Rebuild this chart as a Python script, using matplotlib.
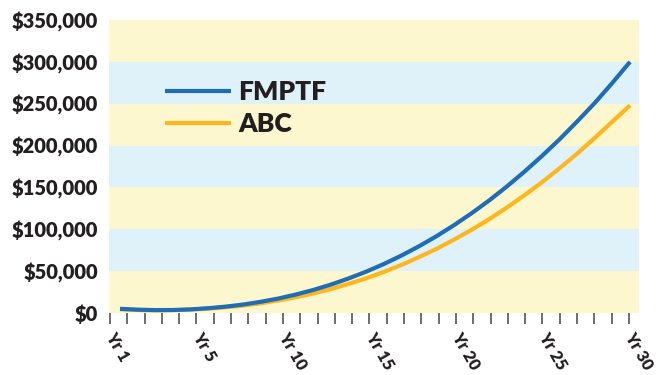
import matplotlib
matplotlib.use('Agg')
import matplotlib.pyplot as plt
import matplotlib.transforms as mtransforms
import numpy as np

years = np.arange(1, 31)
fmptf = [5000, 4000, 3500, 3600, 4300, 5700, 7600, 10100, 13400, 17300,
         22100, 27600, 34000, 41300, 49400, 58500, 68600, 79700, 91800, 105000,
         119300, 134600, 151200, 168900, 187700, 207600, 228900, 251000, 275000, 300000]
abc = [4500, 3700, 3100, 3400, 4100, 5200, 6800, 8900, 11600, 14900,
       18900, 23400, 28700, 34800, 41500, 49100, 57400, 66700, 76700, 87700,
       99500, 112200, 126000, 140700, 156300, 173000, 190500, 209200, 228700, 248000]
y_ticks = [0, 50000, 100000, 150000, 200000, 250000, 300000, 350000]
x_labels = ['Yr 1', 'Yr 5', 'Yr 10', 'Yr 15', 'Yr 20', 'Yr 25', 'Yr 30']

YELLOW = '#fdf7cf'
LIGHT_BLUE = '#e0f2f9'
BLUE = '#1f6db5'
ORANGE = '#fdb71c'
TEXT = '#231f20'

plt.rcParams['font.family'] = ['Lato', 'DejaVu Sans']
fig = plt.figure(figsize=(6.63, 3.75), dpi=100)
ax = fig.add_axes([0.1644, 0.1653, 0.7994, 0.7814])

# alternating bands
for i in range(len(y_ticks) - 1):
    ax.axhspan(y_ticks[i], y_ticks[i + 1], color=YELLOW if i % 2 == 0 else LIGHT_BLUE,
               lw=0, zorder=0)

ax.plot(years, fmptf, color=BLUE, lw=3, label='FMPTF', zorder=3, solid_capstyle='butt')
ax.plot(years, abc, color=ORANGE, lw=3, label='ABC', zorder=2, solid_capstyle='butt')

ax.set_xlim(0.375, 30.51)
ax.set_ylim(y_ticks[0], y_ticks[-1])

tick_pos = np.linspace(0.43, 29.94, 31)
ax.set_xticks(tick_pos)
ax.set_xticklabels([''] * len(tick_pos))
ax.tick_params(axis='x', length=8, width=1.2, color='#555555', direction='out', pad=2)
trans = ax.get_xaxis_transform() + mtransforms.ScaledTranslation(0, -14.5 / 72, fig.dpi_scale_trans)
for lbl, pos in zip(x_labels, tick_pos[::5]):
    ax.text(pos, 0, lbl, transform=trans, rotation=-60, rotation_mode='anchor',
            ha='left', va='center', fontsize=12, fontweight='heavy', color=TEXT, clip_on=False)

ax.set_yticks(y_ticks)
ax.set_yticklabels(['${:,}'.format(v) for v in y_ticks], fontsize=14.5, fontweight='heavy', color=TEXT)
ax.tick_params(axis='y', length=0, pad=8)

for s in ax.spines.values():
    s.set_visible(False)

leg = ax.legend(loc='upper left', bbox_to_anchor=(0.085, 0.83), frameon=False,
                borderaxespad=0, handlelength=2.5, handletextpad=0.3, labelspacing=0.3,
                prop={'size': 19, 'weight': 'heavy'})
for t in leg.get_texts():
    t.set_color(TEXT)
for h in leg.get_lines():
    h.set_linewidth(3)

fig.savefig('out.png', dpi=100)
